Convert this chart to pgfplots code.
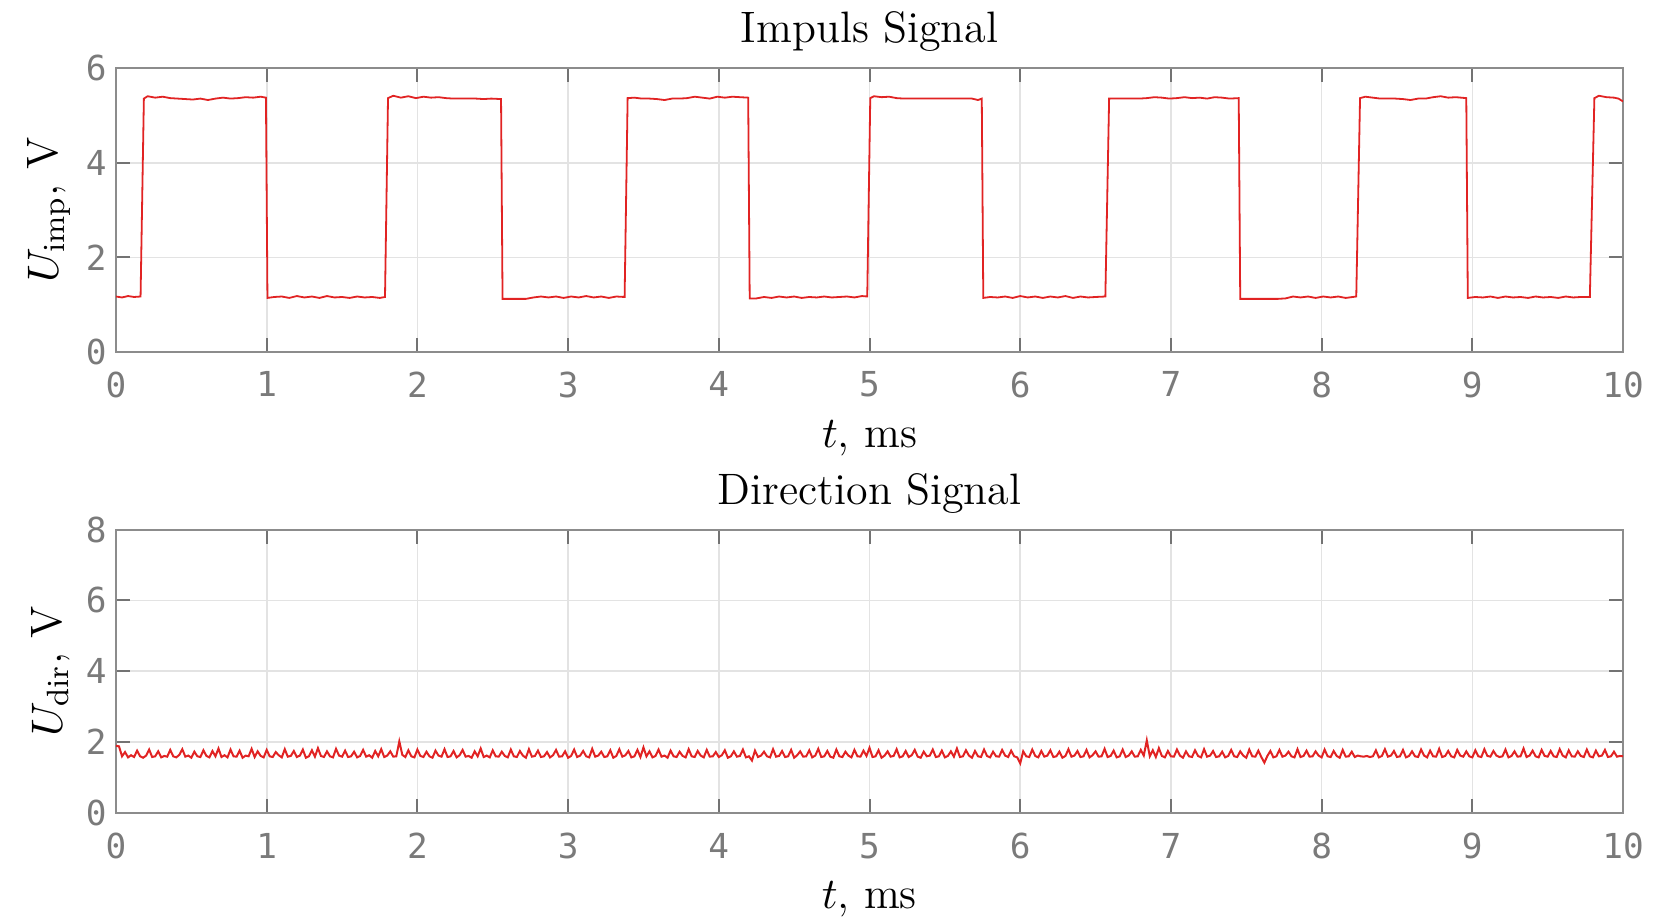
\documentclass[border=0pt]{standalone}
\usepackage{fontspec}
\usepackage{pgfplots}
\usepackage{pgfplotstable}
\pgfplotsset{compat=1.18}
\newfontfamily\tickfont{DejaVu Sans Mono}
\definecolor{sig}{RGB}{225,35,35}

\pgfplotstableread{
y
1.90 
1.88 
1.60 
1.72 
1.57 
1.63 
1.58 
1.76 
1.60 
1.56
1.62 
1.79 
1.58 
1.60 
1.74 
1.57 
1.61 
1.59 
1.78 
1.60
1.57 
1.64 
1.80 
1.59 
1.62 
1.56 
1.73 
1.60 
1.58 
1.77
1.61 
1.57 
1.75 
1.60 
1.82 
1.58 
1.63 
1.57 
1.79 
1.60
1.59 
1.76 
1.56 
1.62 
1.60 
1.81 
1.58 
1.74 
1.61 
1.57
1.78 
1.60 
1.58 
1.72 
1.63 
1.57 
1.80 
1.59 
1.61 
1.75
1.58 
1.62 
1.79 
1.56 
1.60 
1.77 
1.59 
1.83 
1.61 
1.58
1.74 
1.60 
1.57 
1.81 
1.62 
1.59 
1.76 
1.58 
1.60 
1.73
1.57 
1.61 
1.78 
1.59 
1.63 
1.56 
1.75 
1.60 
1.80 
1.58
1.62 
1.74 
1.59 
1.60 
2.02 
1.64 
1.58 
1.77 
1.60 
1.57
1.79 
1.61 
1.58 
1.73 
1.60 
1.56 
1.76 
1.62 
1.59 
1.80
1.58 
1.60 
1.75 
1.57 
1.63 
1.78 
1.59 
1.61 
1.56 
1.74
1.60 
1.82 
1.58 
1.62 
1.57 
1.77 
1.60 
1.59 
1.73 
1.61
1.57 
1.79 
1.60 
1.58 
1.75 
1.62 
1.56 
1.80 
1.59 
1.61
1.76 
1.58 
1.60 
1.72 
1.57 
1.63 
1.78 
1.59 
1.60 
1.74
1.56 
1.61 
1.79 
1.58 
1.62 
1.75 
1.60 
1.57 
1.81 
1.59
1.62 
1.73 
1.58 
1.60 
1.77 
1.56 
1.61 
1.80 
1.59 
1.63
1.75 
1.57 
1.60 
1.78 
1.58 
1.85 
1.60 
1.74 
1.57 
1.61
1.79 
1.59 
1.62 
1.56 
1.76 
1.60 
1.58 
1.73 
1.61 
1.57
1.80 
1.60 
1.58 
1.75 
1.62 
1.57 
1.78 
1.59 
1.60 
1.72
1.58 
1.63 
1.77 
1.56 
1.60 
1.74 
1.59 
1.61 
1.79 
1.57
1.60 
1.48 
1.76 
1.58 
1.62 
1.73 
1.60 
1.57 
1.80 
1.59
1.61 
1.75 
1.58 
1.60 
1.78 
1.56 
1.63 
1.74 
1.59 
1.60
1.77 
1.57 
1.62 
1.81 
1.58 
1.60 
1.75 
1.59 
1.56 
1.79
1.60 
1.58 
1.73 
1.62 
1.57 
1.78 
1.60 
1.59 
1.76 
1.61
1.84 
1.58 
1.60 
1.77 
1.56 
1.62 
1.74 
1.59 
1.61 
1.80
1.57 
1.60 
1.75 
1.58 
1.63 
1.78 
1.59 
1.56 
1.73 
1.60
1.62 
1.79 
1.58 
1.60 
1.76 
1.57 
1.61 
1.74 
1.59 
1.82
1.58 
1.60 
1.77 
1.62 
1.56 
1.75 
1.60 
1.58 
1.79 
1.61
1.57 
1.73 
1.60 
1.59 
1.78 
1.62 
1.58 
1.76 
1.60 
1.57
1.40 
1.74 
1.60 
1.58 
1.79 
1.61 
1.57 
1.75 
1.59 
1.62
1.77 
1.58 
1.60 
1.73 
1.56 
1.61 
1.80 
1.59 
1.62 
1.75
1.58 
1.60 
1.78 
1.57 
1.63 
1.74 
1.59 
1.60 
1.81 
1.58
1.61 
1.76 
1.57 
1.60 
1.79 
1.58 
1.62 
1.74 
1.59 
1.60
1.78 
1.62 
2.05 
1.60 
1.77 
1.58 
1.83 
1.61 
1.57 
1.75
1.60 
1.59 
1.79 
1.62 
1.56 
1.74 
1.60 
1.58 
1.77 
1.61
1.57 
1.80 
1.59 
1.62 
1.75 
1.58 
1.60 
1.73 
1.57 
1.61
1.78 
1.60 
1.58 
1.74 
1.62 
1.56 
1.79 
1.60 
1.59 
1.76
1.58 
1.42 
1.61 
1.75 
1.57 
1.60 
1.78 
1.59 
1.62 
1.73
1.60 
1.57 
1.80 
1.58 
1.61 
1.76 
1.59 
1.60 
1.74 
1.62
1.57 
1.79 
1.60 
1.58 
1.75 
1.61 
1.56 
1.78 
1.59 
1.60
1.73 
1.58 
1.62 
1.60 
1.59 
1.61 
1.58 
1.60 
1.77 
1.57
1.61 
1.80 
1.59 
1.62 
1.75 
1.58 
1.60 
1.78 
1.57 
1.61
1.74 
1.60 
1.58 
1.79 
1.62 
1.57 
1.76 
1.60 
1.59 
1.81
1.58 
1.61 
1.75 
1.60 
1.57 
1.78 
1.62 
1.59 
1.74 
1.60
1.57 
1.77 
1.60 
1.58 
1.80 
1.61 
1.59 
1.75 
1.62 
1.58
1.60 
1.79 
1.57 
1.61 
1.74 
1.59 
1.60 
1.82 
1.58 
1.62
1.76 
1.60 
1.57 
1.78 
1.61 
1.59 
1.75 
1.60 
1.58 
1.80
1.62 
1.57 
1.77 
1.60 
1.59 
1.74 
1.61 
1.58 
1.79 
1.60
1.57 
1.76 
1.60 
1.62 
1.78 
1.58 
1.60 
1.73 
1.59 
1.61
1.60
}\dirtable

\pgfplotsset{
  sigaxis/.style={
    scale only axis,
    width=376.75pt, height=70.85pt,
    xmin=0, xmax=10,
    xtick={0,1,...,10},
    axis line style={black!45, line width=0.5pt},
    major tick style={black!55, line width=0.5pt},
    major tick length=3.5pt,
    tick align=inside,
    grid=major,
    major grid style={black!11, line width=0.4pt},
    /pgf/number format/assume math mode=true,
    ticklabel style={font=\tickfont\fontsize{8.6}{10}\selectfont, text=black!52},
    xticklabel style={yshift=-1.5pt},
    yticklabel style={xshift=1.2pt},
    title style={font=\fontsize{11}{13}\selectfont, yshift=-5.4pt},
    label style={font=\fontsize{11}{13}\selectfont},
    xlabel={$t$, ms},
    xlabel style={yshift=1.2pt},
    ylabel style={yshift=-3pt},
    every axis plot/.append style={sig, line width=0.45pt},
  }
}

\begin{document}
\begin{tikzpicture}
\begin{axis}[sigaxis, at={(0,115.3pt)}, anchor=south west,
  ymin=0, ymax=6, ytick={0,2,4,6},
  title={Impuls Signal},
  ylabel={$U_{\mathrm{imp}}$, V}]
\addplot[sig] coordinates {
(0,1.17)(0.04,1.15)(0.08,1.18)(0.12,1.16)(0.163,1.17)
(0.185,5.36)
(0.21,5.41)(0.26,5.38)(0.31,5.40)(0.36,5.37)(0.41,5.36)(0.46,5.35)(0.51,5.34)(0.56,5.36)(0.61,5.33)(0.66,5.36)(0.71,5.38)(0.76,5.36)(0.81,5.37)(0.86,5.39)(0.91,5.38)(0.96,5.40)(0.995,5.38)
(1.005,1.14)
(1.05,1.16)(1.10,1.17)(1.15,1.14)(1.20,1.18)(1.25,1.15)(1.30,1.17)(1.35,1.14)(1.40,1.18)(1.45,1.15)(1.50,1.16)(1.55,1.14)(1.60,1.17)(1.65,1.15)(1.70,1.16)(1.75,1.14)(1.785,1.16)
(1.805,5.37)
(1.84,5.42)(1.89,5.38)(1.94,5.41)(1.99,5.37)(2.04,5.40)(2.09,5.38)(2.14,5.39)(2.19,5.37)(2.24,5.36)(2.29,5.36)(2.34,5.36)(2.39,5.36)(2.44,5.35)(2.49,5.36)(2.555,5.35)
(2.565,1.12)
(2.62,1.12)(2.67,1.12)(2.72,1.12)(2.77,1.15)(2.82,1.17)(2.87,1.15)(2.92,1.17)(2.97,1.14)(3.02,1.17)(3.07,1.15)(3.12,1.18)(3.17,1.15)(3.22,1.17)(3.27,1.14)(3.32,1.17)(3.375,1.16)
(3.395,5.37)
(3.44,5.38)(3.49,5.36)(3.54,5.36)(3.59,5.35)(3.64,5.33)(3.69,5.36)(3.74,5.36)(3.79,5.37)(3.84,5.40)(3.89,5.38)(3.94,5.36)(3.99,5.40)(4.04,5.38)(4.09,5.40)(4.14,5.39)(4.195,5.38)
(4.205,1.13)
(4.25,1.13)(4.30,1.16)(4.35,1.14)(4.40,1.17)(4.45,1.15)(4.50,1.17)(4.55,1.14)(4.60,1.16)(4.65,1.15)(4.70,1.17)(4.75,1.15)(4.80,1.16)(4.85,1.17)(4.90,1.15)(4.95,1.18)(4.985,1.17)
(5.005,5.37)
(5.03,5.41)(5.08,5.39)(5.13,5.40)(5.18,5.37)(5.23,5.36)(5.28,5.36)(5.33,5.36)(5.38,5.36)(5.43,5.36)(5.48,5.36)(5.53,5.36)(5.58,5.36)(5.63,5.36)(5.68,5.36)(5.72,5.33)(5.745,5.36)
(5.755,1.14)
(5.80,1.16)(5.85,1.15)(5.90,1.17)(5.95,1.14)(6.00,1.18)(6.05,1.15)(6.10,1.17)(6.15,1.14)(6.20,1.17)(6.25,1.15)(6.30,1.18)(6.35,1.14)(6.40,1.17)(6.45,1.15)(6.50,1.16)(6.565,1.17)
(6.59,5.36)
(6.64,5.36)(6.69,5.36)(6.74,5.36)(6.79,5.36)(6.84,5.37)(6.89,5.39)(6.94,5.38)(6.99,5.36)(7.04,5.37)(7.09,5.39)(7.14,5.37)(7.19,5.38)(7.24,5.36)(7.29,5.39)(7.34,5.38)(7.39,5.36)(7.45,5.37)
(7.46,1.12)
(7.51,1.12)(7.56,1.12)(7.61,1.12)(7.66,1.12)(7.71,1.12)(7.76,1.13)(7.81,1.17)(7.86,1.15)(7.91,1.17)(7.96,1.14)(8.01,1.17)(8.06,1.15)(8.11,1.17)(8.16,1.14)(8.23,1.17)
(8.255,5.37)
(8.29,5.40)(8.34,5.38)(8.39,5.36)(8.44,5.36)(8.49,5.36)(8.54,5.35)(8.59,5.33)(8.64,5.36)(8.69,5.36)(8.74,5.39)(8.79,5.41)(8.84,5.38)(8.89,5.39)(8.96,5.37)
(8.97,1.14)
(9.02,1.16)(9.07,1.15)(9.12,1.17)(9.17,1.14)(9.22,1.17)(9.27,1.15)(9.32,1.16)(9.37,1.14)(9.42,1.17)(9.47,1.15)(9.52,1.16)(9.57,1.14)(9.62,1.17)(9.67,1.15)(9.72,1.16)(9.78,1.16)
(9.81,5.37)
(9.84,5.42)(9.89,5.39)(9.94,5.38)(9.97,5.36)(10,5.30)
};
\end{axis}
\begin{axis}[sigaxis, at={(0,0)}, anchor=south west,
  ymin=0, ymax=8, ytick={0,2,4,6,8},
  title={Direction Signal},
  ylabel={$U_{\mathrm{dir}}$, V}]
\addplot[sig, line width=0.5pt] table[x expr=\coordindex*0.02, y index=0] {\dirtable};
\end{axis}
\pgfresetboundingbox
\path[use as bounding box] (-29pt,-26pt) rectangle (388pt,203.25pt);
\end{tikzpicture}
\end{document}
